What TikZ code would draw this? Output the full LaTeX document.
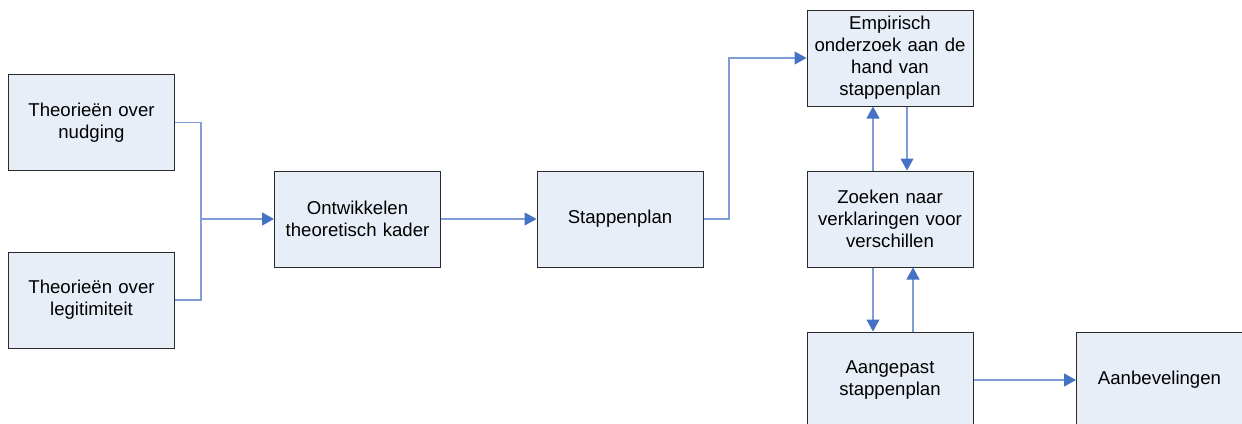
\documentclass[tikz,border=0pt]{standalone}
\usepackage{fontspec}
\setmainfont{Liberation Sans}
\usetikzlibrary{arrows.meta}
\definecolor{boxfill}{HTML}{E8EEF8}
\definecolor{boxline}{HTML}{2A2A2A}
\definecolor{linkline}{HTML}{7F9ED8}
\definecolor{linktip}{HTML}{4472C4}
\tikzset{
  stepbox/.style={draw=boxline, fill=boxfill, line width=1pt,
    minimum width=166pt, minimum height=96pt, inner sep=2pt,
    text width=160pt, align=center,
    font=\fontsize{18.6}{22}\selectfont},
  link/.style={draw=linkline, line width=1.1pt,
    -{Triangle[length=12pt,width=13pt,color=linktip]}},
  plainlink/.style={draw=linkline, line width=1.1pt}
}
\begin{document}
\begin{tikzpicture}[x=1pt,y=-1pt]
  \useasboundingbox (0,0) rectangle (1242,423);

  % boxes
  \node[stepbox] (nud) at (91.5,122.5) {Theorieën over\\nudging};
  \node[stepbox] (leg) at (91.5,300) {Theorieën over\\legitimiteit};
  \node[stepbox] (kad) at (357.5,219) {Ontwikkelen\\theoretisch kader};
  \node[stepbox] (stp) at (620,219) {Stappenplan};
  \node[stepbox] (emp) at (890,58) {Empirisch\\onderzoek aan de\\hand van\\stappenplan};
  \node[stepbox] (zoe) at (890,219) {Zoeken naar\\verklaringen voor\\verschillen};
  \node[stepbox] (aan) at (890,380) {Aangepast\\stappenplan};
  \node[stepbox] (adv) at (1159.5,380) {Aanbevelingen};

  % merge of the two theory boxes
  \coordinate (merge) at (201,219);
  \draw[plainlink] (nud.east) -| (merge);
  \draw[plainlink] (leg.east) -| (merge);
  \draw[link] (merge) -- (kad.west);

  % main chain
  \draw[link] (kad) -- (stp);
  \coordinate (bend) at (729,0);
  \draw[link] (stp.east) -| (bend |- emp.west) -- (emp.west);

  % feedback loops
  \draw[link] (zoe.north -| 873,0) -- (emp.south -| 873,0);
  \draw[link] (emp.south -| 907,0) -- (zoe.north -| 907,0);
  \draw[link] (zoe.south -| 873,0) -- (aan.north -| 873,0);
  \draw[link] (aan.north -| 913,0) -- (zoe.south -| 913,0);

  \draw[link] (aan) -- (adv);
\end{tikzpicture}
\end{document}
